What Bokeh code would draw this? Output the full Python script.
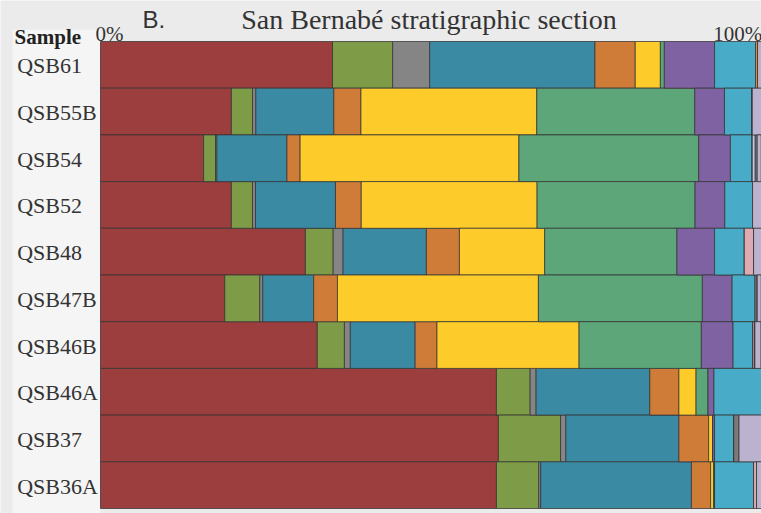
from bokeh.plotting import figure
from bokeh.models import ColumnDataSource, Range1d, BoxAnnotation
from bokeh.core.properties import value
from bokeh.embed import file_html
from bokeh.resources import INLINE

# ---- data (percent of each sample, top to bottom) ----
samples = ["QSB61", "QSB55B", "QSB54", "QSB52", "QSB48",
           "QSB47B", "QSB46B", "QSB46A", "QSB37", "QSB36A"]

red      = [35.1, 19.8, 15.6, 19.8, 31.0, 18.8, 32.8, 59.9, 60.2, 59.9]
olive    = [9.1, 3.2, 1.8, 3.2, 4.2, 5.3, 4.1, 5.1, 9.4, 6.4]
gray     = [5.6, 0.5, 0.2, 0.45, 1.5, 0.45, 0.9, 0.9, 0.8, 0.3]
teal     = [25.0, 11.8, 10.6, 12.1, 12.6, 7.7, 9.8, 17.2, 17.1, 22.8]
orange   = [6.1, 4.1, 2.0, 3.9, 5.0, 3.6, 3.3, 4.4, 4.5, 2.9]
yellow   = [3.8, 26.6, 33.1, 26.6, 12.9, 30.4, 21.5, 2.6, 0.6, 0.45]
green    = [0.6, 23.9, 27.2, 23.9, 20.0, 24.8, 18.5, 1.8, 0.0, 0.15]
purple   = [7.6, 4.5, 4.8, 4.5, 5.7, 4.5, 4.8, 0.9, 0.3, 0.0]
cyan     = [6.2, 4.2, 3.3, 4.2, 4.5, 3.5, 3.0, 7.2, 2.9, 5.9]
orange2  = [0.3, 0, 0, 0, 0, 0, 0, 0, 0, 0]
pink     = [0, 0, 0, 0, 1.4, 0.3, 0.3, 0, 0, 0.45]
paleblue = [0, 0, 0.45, 0, 0, 0, 0, 0, 0, 0]
gray2    = [0, 0, 0.3, 0, 0, 0, 0, 0, 0.8, 0]
lavender = [0.6, 1.4, 0.6, 1.35, 1.2, 0.6, 0.9, 0, 3.4, 0.75]

series = {
    "red": red, "olive": olive, "gray": gray, "teal": teal, "orange": orange,
    "yellow": yellow, "green": green, "purple": purple, "cyan": cyan,
    "orange2": orange2, "pink": pink, "paleblue": paleblue, "gray2": gray2,
    "lavender": lavender,
}
colors = ["#9c3e3d", "#7e9b48", "#858585", "#3b8aa4", "#cf7c39",
          "#fdcc2b", "#5ca67a", "#7f62a1", "#48acc8", "#e8902d",
          "#dcaab0", "#c0c8e4", "#7a7a7a", "#bbb2d0"]

title_text = "San Bernabé stratigraphic section"
panel_tag = "B."
header = "Sample"
pct_labels = ["0%", "100%"]

# ---- figure ----
W, H = 761, 513
px_per_pct = 6.61
row_px = 46.7
x_start = -100 / px_per_pct
y_top = -0.5 - 41 / row_px
y_bottom = 9.5 + (H - 41 - 10 * row_px) / row_px

data = dict(row=list(range(len(samples))), sample=samples)
data.update(series)
source = ColumnDataSource(data)

p = figure(width=W, height=H, output_backend="svg", toolbar_location=None,
           x_range=Range1d(x_start, 100), y_range=Range1d(y_bottom, y_top),
           x_axis_location=None, y_axis_location=None, min_border=0)
p.min_border_left = 0
p.min_border_right = 0
p.min_border_top = 0
p.min_border_bottom = 0
p.outline_line_color = None
p.xgrid.visible = False
p.ygrid.visible = False
p.background_fill_color = "#ebebeb"
p.border_fill_color = "#ebebeb"

# lighter label column
p.add_layout(BoxAnnotation(left=(12 - 100) / px_per_pct, right=0, top=-0.75,
                           fill_color="#f5f5f5", fill_alpha=1.0, line_color=None,
                           level="underlay"))

p.hbar_stack(list(series.keys()), y="row", height=1.0, color=colors,
             source=source, line_color="#333333", line_alpha=0.75, line_width=1)

serif = value("Liberation Serif")
txt = "#333333"

# sample labels
p.text(x=[-12.6] * len(samples), y=list(range(len(samples))), text=samples,
       text_font=serif, text_font_size="22px", text_color=txt,
       text_align="left", text_baseline="middle", y_offset=1)

# header texts
p.text(x=[-13.0], y=[-0.5], text=[header], text_font=serif, text_font_style="bold",
       text_font_size="21px", text_color="#222222", text_align="left",
       text_baseline="alphabetic", y_offset=-5)
p.text(x=[-0.76, 92.7], y=[-0.67, -0.67], text=pct_labels, text_font=serif,
       text_font_size="21px", text_color=txt, text_align="left",
       text_baseline="alphabetic")
p.text(x=[6.35], y=[-0.97], text=[panel_tag], text_font=value("Liberation Sans"),
       text_font_size="24px", text_color=txt, text_align="left",
       text_baseline="alphabetic")
p.text(x=[49.7], y=[-0.97], text=[title_text], text_font=serif,
       text_font_size="28px", text_color=txt, text_align="center",
       text_baseline="alphabetic")

open("out.html", "w").write(file_html(p, INLINE))
